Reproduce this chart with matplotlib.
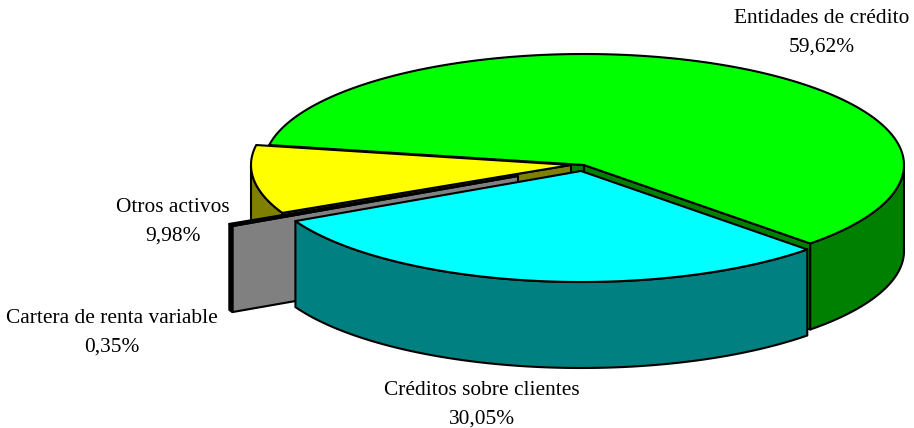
import numpy as np
import matplotlib
matplotlib.use('Agg')
import matplotlib.pyplot as plt
from matplotlib.patches import Polygon

# values of the pie, drawn in this order (back to front)
names = ['Entidades de crédito', 'Otros activos', 'Cartera de renta variable', 'Créditos sobre clientes']
shares = [59.62, 9.98, 0.35, 30.05]
share_labels = ['59,62%', '9,98%', '0,35%', '30,05%']
top_colors = ['#00ff00', '#ffff00', '#000000', '#00ffff']
side_colors = ['#008000', '#808000', '#808080', '#008080']
wall_colors = ['#008000', '#808000', '#000000', '#008080']

# wedge centres in pixels (exploded pie)
centers_x = [584, 571, 518, 581]
centers_y = [165, 165, 176, 171]
label_x = [822, 173, 112, 482]
label_y = [33, 222, 333, 405]

start_angle = -45
rx, ry = 320, 111
depth = 86
lw = 1.5

plt.rcParams['font.family'] = ['Liberation Serif', 'DejaVu Serif']

fig = plt.figure(figsize=(9.14, 4.28), dpi=100)
ax = fig.add_axes([0, 0, 1, 1])
ax.set_xlim(0, 914)
ax.set_ylim(428, 0)
ax.axis('off')


def rim(cx, cy, angles):
    t = np.radians(angles)
    return np.column_stack([cx + rx * np.cos(t), cy - ry * np.sin(t)])


def add_poly(pts, color):
    ax.add_patch(Polygon(pts, closed=True, facecolor=color, edgecolor='black',
                         linewidth=lw, joinstyle='round'))


def cut_face(cx, cy, angle, color):
    p = rim(cx, cy, [angle])[0]
    add_poly([(cx, cy), p, (p[0], p[1] + depth), (cx, cy + depth)], color)


t0 = start_angle
for i, share in enumerate(shares):
    t1 = t0 + share * 3.6
    cx, cy = centers_x[i], centers_y[i]

    # cut faces that look towards the viewer
    if np.cos(np.radians(t0)) > 0:
        cut_face(cx, cy, t0, side_colors[i])
    if np.cos(np.radians(t1)) < 0:
        cut_face(cx, cy, t1, side_colors[i])

    # outer wall, only the front half of the ellipse shows
    a = np.linspace(t0, t1, 200)
    a = a[np.sin(np.radians(a)) <= 0]
    if len(a) > 1:
        upper = rim(cx, cy, a)
        lower = upper[::-1] + [0, depth]
        add_poly(np.vstack([upper, lower]), wall_colors[i])

    # top of the wedge
    arc = rim(cx, cy, np.linspace(t0, t1, 200))
    add_poly(np.vstack([[(cx, cy)], arc]), top_colors[i])

    ax.text(label_x[i], label_y[i], names[i] + '\n' + share_labels[i], ha='center', va='center',
            fontsize=15.4, linespacing=1.67, color='black')
    t0 = t1

fig.savefig('out.png', dpi=100)
